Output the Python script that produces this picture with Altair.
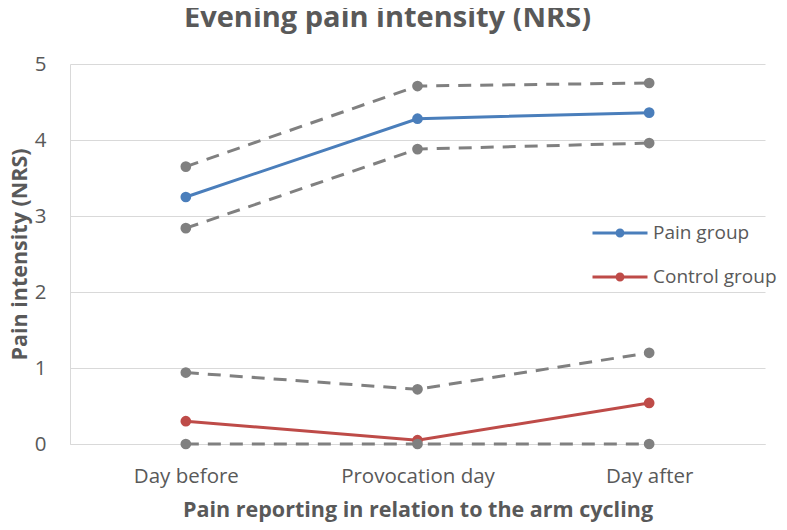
import altair as alt
import pandas as pd

# ---- data ----
days = ["Day before", "Provocation day", "Day after"]
pain_mean = [3.25, 4.28, 4.36]
pain_upper = [3.65, 4.71, 4.75]
pain_lower = [2.84, 3.88, 3.96]
control_mean = [0.30, 0.05, 0.54]
control_upper = [0.94, 0.72, 1.20]
control_lower = [0.00, 0.00, 0.00]

groups = ["Pain group", "Control group"]
group_colors = ["#4a7ebb", "#be4b48"]
ci_color = "#808080"
y_ticks = [0, 1, 2, 3, 4, 5]

FONT = "Open Sans"
TXT = "#595959"
GRID = "#d9d9d9"

rows = []
for name, vals in [("Pain group", pain_mean), ("Control group", control_mean)]:
    for d, v in zip(days, vals):
        rows.append({"day": d, "value": v, "series": name})
means = pd.DataFrame(rows)

ci_rows = []
for name, vals in [("Pain upper", pain_upper), ("Pain lower", pain_lower),
                   ("Control upper", control_upper), ("Control lower", control_lower)]:
    for d, v in zip(days, vals):
        ci_rows.append({"day": d, "value": v, "series": name})
ci = pd.DataFrame(ci_rows)

x_enc = alt.X(
    "day:N", sort=days,
    scale=alt.Scale(type="point", padding=0.5),
    axis=alt.Axis(
        title="Pain reporting in relation to the arm cycling",
        labelAngle=0, labelPadding=22, labelFontSize=20.5,
        titleFontSize=21.5, titleFontWeight="bold",
        titleBaseline="alphabetic", titleY=72,
        grid=False, ticks=False, domain=True, domainColor=GRID,
    ),
)
y_enc = alt.Y(
    "value:Q",
    scale=alt.Scale(domain=[0, 5], nice=False, zero=True),
    axis=alt.Axis(
        title="Pain intensity (NRS)", values=y_ticks, format="d",
        labelPadding=24, labelFontSize=20.5,
        titleFontSize=21.5, titleFontWeight="bold",
        titleAngle=-90, titleBaseline="alphabetic", titleX=-44, titleY=190,
        titleAlign="center",
        grid=True, gridColor=GRID, ticks=False, domain=True, domainColor=GRID,
    ),
)

color_scale = alt.Scale(domain=groups, range=group_colors)
legend_path = ("M-2.75,-0.16L2.75,-0.16L2.75,0.16L-2.75,0.16Z "
               "M-0.45,0A0.45,0.45 0 1,1 0.45,0A0.45,0.45 0 1,1 -0.45,0Z")

line_layers = []
for g, c in zip(groups, group_colors):
    line_layers.append(
        alt.Chart(means).transform_filter(alt.datum.series == g)
        .mark_line(strokeWidth=3, color=c)
        .encode(x=x_enc, y=y_enc)
    )

mean_points = alt.Chart(means).mark_point(filled=True, size=115, opacity=1).encode(
    x=x_enc, y=y_enc,
    color=alt.Color("series:N", scale=color_scale, sort=groups,
                    legend=alt.Legend(
                        title=None, orient="none", legendX=540, legendY=159,
                        padding=0, labelOffset=23, rowPadding=24,
                        labelFontSize=19, labelColor=TXT, labelFont=FONT,
                        labelLimit=300,
                        symbolType=legend_path, symbolSize=400,
                        symbolStrokeWidth=0, symbolOpacity=1,
                    )),
)
ci_lines = alt.Chart(ci).mark_line(strokeWidth=3, strokeDash=[13, 9], color=ci_color).encode(
    x=x_enc, y=y_enc, detail="series:N",
)
ci_points = alt.Chart(ci).mark_point(filled=True, size=115, opacity=1, color=ci_color).encode(
    x=x_enc, y=y_enc, detail="series:N",
)

chart = alt.layer(*line_layers, mean_points, ci_lines, ci_points).properties(
    width=695, height=380,
    autosize="none",
    padding={"left": 62, "top": 56, "right": 14, "bottom": 78},
    title=alt.TitleParams(
        "Evening pain intensity (NRS)", anchor="middle", frame="group", dx=-30,
        offset=21, fontSize=29, fontWeight="bold",
        font=FONT, color=TXT,
    ),
).configure_axis(
    labelFont=FONT, titleFont=FONT, labelColor=TXT, titleColor=TXT,
).configure_view(stroke=None)

chart.save("out.html", embed_options={"renderer": "svg", "actions": False})
